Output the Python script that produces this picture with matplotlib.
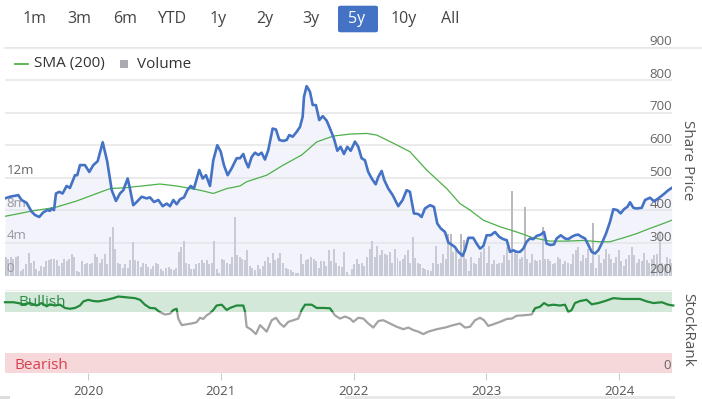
import numpy as np
import matplotlib
matplotlib.use("Agg")
import matplotlib.pyplot as plt
from matplotlib.patches import Rectangle, FancyBboxPatch
from matplotlib.lines import Line2D

plt.rcParams['font.family'] = ['Open Sans', 'DejaVu Sans']

# ---- data (x in decimal years) ----
price_t = [2019.375, 2019.412, 2019.475, 2019.500, 2019.538, 2019.576, 2019.601, 2019.633, 2019.663, 2019.693,
           2019.714, 2019.726, 2019.744, 2019.759, 2019.784, 2019.809, 2019.839, 2019.864, 2019.902, 2019.919,
           2019.940, 2019.977, 2020.010, 2020.040, 2020.073, 2020.111, 2020.145, 2020.179, 2020.211, 2020.241,
           2020.266, 2020.299, 2020.316, 2020.341, 2020.367, 2020.404, 2020.442, 2020.467, 2020.497, 2020.530,
           2020.563, 2020.593, 2020.618, 2020.643, 2020.668, 2020.693, 2020.723, 2020.748, 2020.774, 2020.798,
           2020.838, 2020.864, 2020.889, 2020.919, 2020.944, 2020.974, 2021.000, 2021.024, 2021.052, 2021.082,
           2021.120, 2021.145, 2021.170, 2021.188, 2021.208, 2021.233, 2021.258, 2021.283, 2021.308, 2021.333,
           2021.358, 2021.391, 2021.416, 2021.441, 2021.471, 2021.497, 2021.516, 2021.542, 2021.572, 2021.597,
           2021.617, 2021.627, 2021.647, 2021.672, 2021.693, 2021.717, 2021.742, 2021.768, 2021.798, 2021.828,
           2021.853, 2021.878, 2021.903, 2021.928, 2021.953, 2021.979, 2022.011, 2022.036, 2022.061, 2022.086,
           2022.111, 2022.137, 2022.167, 2022.187, 2022.212, 2022.232, 2022.262, 2022.295, 2022.337, 2022.370,
           2022.400, 2022.425, 2022.455, 2022.488, 2022.513, 2022.538, 2022.576, 2022.606, 2022.631, 2022.657,
           2022.689, 2022.714, 2022.739, 2022.764, 2022.789, 2022.822, 2022.840, 2022.865, 2022.902, 2022.928,
           2022.953, 2022.978, 2023.003, 2023.033, 2023.066, 2023.098, 2023.128, 2023.154, 2023.179, 2023.204,
           2023.229, 2023.254, 2023.279, 2023.304, 2023.329, 2023.354, 2023.380, 2023.410, 2023.435, 2023.455,
           2023.485, 2023.510, 2023.530, 2023.561, 2023.593, 2023.618, 2023.643, 2023.668, 2023.693, 2023.719,
           2023.744, 2023.769, 2023.794, 2023.819, 2023.844, 2023.869, 2023.902, 2023.932, 2023.957, 2023.987,
           2024.012, 2024.038, 2024.063, 2024.083, 2024.108, 2024.133, 2024.171, 2024.196, 2024.233, 2024.264,
           2024.296, 2024.334, 2024.371, 2024.397]
price = [437, 442, 447, 432, 423, 396, 386, 380, 394, 401,
         399, 406, 401, 452, 457, 452, 475, 469, 508, 508,
         539, 539, 518, 539, 551, 609, 550, 462, 429, 452,
         462, 498, 467, 416, 426, 442, 437, 440, 426, 432,
         413, 421, 413, 432, 419, 434, 440, 462, 475, 467,
         524, 498, 508, 475, 554, 600, 580, 539, 508, 529,
         560, 560, 573, 550, 532, 564, 577, 570, 577, 556,
         585, 651, 648, 616, 613, 616, 631, 626, 641, 656,
         687, 748, 781, 764, 723, 723, 677, 689, 675, 646,
         620, 583, 595, 573, 595, 583, 611, 595, 560, 554,
         518, 498, 480, 503, 521, 493, 467, 447, 413, 432,
         462, 457, 391, 389, 380, 406, 416, 411, 360, 345,
         334, 302, 295, 288, 273, 261, 278, 316, 316, 298,
         283, 291, 324, 324, 334, 319, 312, 309, 273, 278,
         273, 273, 283, 304, 314, 312, 322, 326, 334, 298,
         294, 296, 314, 324, 314, 312, 319, 324, 326, 319,
         314, 294, 273, 268, 278, 298, 329, 365, 404, 401,
         391, 404, 411, 425, 408, 406, 408, 432, 439, 428,
         437, 449, 462, 469]

sma_t = [2019.375, 2019.588, 2019.751, 2019.915, 2020.066, 2020.166, 2020.291, 2020.542, 2020.668, 2020.844,
         2020.944, 2021.045, 2021.145, 2021.195, 2021.346, 2021.471, 2021.610, 2021.723, 2021.848, 2021.974,
         2022.099, 2022.175, 2022.300, 2022.425, 2022.551, 2022.702, 2022.802, 2022.878, 2022.978, 2023.104,
         2023.229, 2023.354, 2023.480, 2023.606, 2023.731, 2023.857, 2023.932, 2024.032, 2024.133, 2024.233,
         2024.334, 2024.397]
sma = [382, 399, 409, 429, 452, 467, 470, 481, 475, 462,
       452, 467, 475, 488, 508, 539, 570, 610, 628, 634,
       636, 631, 606, 580, 524, 467, 421, 401, 370, 350,
       334, 316, 306, 306, 308, 304, 304, 316, 329, 345,
       360, 370]

# weekly volume, millions
volume = [2.3, 2.1, 2.3, 2.1, 2.3, 2.4, 0.6, 0.8, 1.4, 2.8, 1.6, 1.8, 0.8, 0.6, 1.2, 1.1, 1.8, 1.9, 2.1, 2.1,
          1.9, 1.2, 1.5, 2.1, 1.8, 2.1, 2.6, 2.3, 0.6, 0.5, 1.8, 1.4, 1.6, 1.4, 1.6, 2.7, 2.3, 1.6, 2.1, 2.6,
          1.4, 4.7, 6.0, 3.3, 1.6, 1.4, 1.0, 1.4, 1.0, 1.9, 4.1, 1.9, 1.8, 1.1, 1.6, 1.4, 1.1, 0.8, 1.2, 1.6,
          1.4, 0.8, 0.6, 1.0, 1.1, 0.8, 0.7, 1.0, 2.9, 3.5, 4.3, 1.6, 1.4, 0.8, 0.8, 1.4, 1.6, 1.9, 1.6, 1.9,
          1.4, 1.6, 4.3, 0.8, 0.3, 2.1, 1.9, 1.6, 1.4, 2.3,
          7.2, 2.5, 2.3, 2.1, 1.9, 3.2, 1.2, 1.0, 0.7, 1.3, 0.8, 1.2, 1.8, 2.3, 1.6, 2.8, 1.9, 2.2, 2.8, 1.6,
          1.0, 0.8, 0.7, 0.4, 0.3, 0.3, 2.7, 1.4, 1.9, 2.1, 2.3, 2.1, 1.8, 1.0, 1.8, 1.8, 1.2, 3.2, 1.8, 3.3,
          1.5, 1.2, 1.1, 2.9, 0.4, 0.1, 0.8, 1.4, 2.1, 1.4, 1.6, 1.2, 2.3, 3.3, 4.3, 2.3, 3.6, 2.5, 3.1, 2.7,
          2.5, 2.9, 1.6, 3.3, 2.2, 1.8, 2.1, 2.5, 3.1, 1.6, 4.8, 2.2, 1.6, 1.4, 1.0, 0.8, 0.7, 0.6, 1.6, 3.6,
          1.4, 1.6, 2.6, 2.1, 5.1, 5.1, 2.9,
          3.1, 2.1, 5.1, 4.4, 2.1, 0.6, 2.3, 1.6, 1.4, 2.2, 2.9, 3.4, 1.6, 3.7, 1.4, 1.9, 1.4, 1.5, 1.5, 2.5,
          3.5, 1.9, 10.4, 3.1, 2.7, 2.1, 2.3, 8.4, 2.1, 1.6, 2.7, 1.9, 1.8, 1.9, 6.0, 2.1, 2.1, 1.8, 1.4, 1.6,
          2.3, 2.1, 1.4, 1.8, 1.6, 1.4, 2.7, 3.1, 3.5, 1.8, 2.5, 2.2, 3.3, 1.6, 6.5, 1.0, 2.5, 1.6, 2.1, 3.3,
          2.7, 2.1, 1.6, 2.3, 3.1, 1.8, 1.2, 2.1, 2.5, 3.5, 2.5, 1.5, 2.1, 1.8, 2.8, 1.9, 1.6, 2.1, 2.5, 2.7,
          5.5, 1.6, 1.4, 2.3, 2.1, 1.6]
vol_start = 2019.38

rank_t = [2019.375, 2019.437, 2019.475, 2019.513, 2019.563, 2019.613, 2019.651, 2019.689, 2019.714, 2019.751,
          2019.789, 2019.827, 2019.864, 2019.902, 2019.940, 2019.965, 2020.002, 2020.040, 2020.078, 2020.141,
          2020.191, 2020.228, 2020.291, 2020.354, 2020.392, 2020.429, 2020.467, 2020.505, 2020.537, 2020.580,
          2020.618, 2020.643, 2020.668, 2020.680, 2020.706, 2020.743, 2020.781, 2020.818, 2020.844, 2020.868,
          2020.894, 2020.919, 2020.944, 2020.969, 2021.007, 2021.045, 2021.070, 2021.120, 2021.170, 2021.183,
          2021.195, 2021.233, 2021.265, 2021.296, 2021.321, 2021.346, 2021.384, 2021.416, 2021.446, 2021.476,
          2021.509, 2021.546, 2021.584, 2021.610, 2021.635, 2021.685, 2021.723, 2021.772, 2021.823, 2021.860,
          2021.898, 2021.936, 2021.974, 2021.999, 2022.036, 2022.074, 2022.111, 2022.149, 2022.187, 2022.224,
          2022.275, 2022.325, 2022.375, 2022.413, 2022.450, 2022.488, 2022.526, 2022.563, 2022.627, 2022.689,
          2022.752, 2022.802, 2022.840, 2022.878, 2022.915, 2022.953, 2022.983, 2023.015, 2023.053, 2023.104,
          2023.154, 2023.192, 2023.229, 2023.279, 2023.342, 2023.367, 2023.405, 2023.435, 2023.467, 2023.505,
          2023.555, 2023.593, 2023.618, 2023.643, 2023.668, 2023.706, 2023.756, 2023.794, 2023.844, 2023.895,
          2023.957, 2024.032, 2024.158, 2024.209, 2024.259, 2024.322, 2024.371, 2024.409]
rank = [87, 87, 86, 84.5, 86, 83, 86, 82, 84.5, 83,
        84, 80, 79, 80, 83, 88, 90, 88.5, 88, 90,
        92, 94, 93, 92, 90, 84, 80, 79.6, 75.4, 72,
        73, 77.5, 79, 67, 59, 60, 61, 62.5, 68, 66.5,
        71, 73.5, 77.5, 83, 84, 77.5, 80, 83, 83, 75.4,
        57, 53, 48, 59, 55, 51, 65, 68, 61, 57,
        63, 65, 67, 77.5, 84, 84, 80, 80, 79.6, 71,
        67, 69.5, 67, 63, 68, 67, 61, 56, 64, 65,
        61, 57, 54, 56, 53, 51, 48, 51, 54, 56,
        59, 61, 56, 57, 65, 68, 65, 58, 60, 63,
        66.5, 67, 70.5, 71, 72, 79.6, 81.5, 86, 83, 84,
        83, 84, 75, 77.5, 86, 88.5, 90, 84.5, 86, 88.5,
        92, 91, 91, 88, 86, 87, 84, 83]

years = [2020, 2021, 2022, 2023, 2024]
price_ticks = [200, 300, 400, 500, 600, 700, 800, 900]
vol_ticks = [0, 4, 8, 12]
vol_labels = ['0', '4m', '8m', '12m']
ranges = ['1m', '3m', '6m', 'YTD', '1y', '2y', '3y', '5y', '10y', 'All']
selected = '5y'

x_min, x_max = 2019.375, 2024.399

# ---- colours ----
blue = '#4472c4'
sma_green = '#4db04a'
rank_green = '#238a3c'
rank_grey = '#a3a3a3'
grid_c = '#e6e6e6'
text_c = '#666666'

W, H = 702, 399
fig = plt.figure(figsize=(W / 100, H / 100), dpi=100)
fig.patch.set_facecolor('white')

# main panel: volume axis underneath, price axis on top
ax_v = fig.add_axes([5 / W, 1 - 275.7 / H, 667 / W, 228.4 / H])
ax_p = ax_v.twinx()

ax_v.set_xlim(x_min, x_max)
ax_v.set_ylim(0, 28)
ax_v.set_yticks(range(0, 29, 4))
ax_v.yaxis.grid(True, color=grid_c, lw=1.1)
ax_v.set_axisbelow(True)
for s in ax_v.spines.values():
    s.set_visible(False)

vol_x = vol_start + np.arange(len(volume)) * 7 / 365.25
ax_v.bar(vol_x, volume, width=0.0150, color='#b9bac0', linewidth=0, zorder=2)

for v, lab in zip(vol_ticks, vol_labels):
    ax_v.annotate(lab, xy=(0, v), xycoords=('axes fraction', 'data'), xytext=(1, 2.6),
                  textcoords='offset points', ha='left', va='baseline', fontsize=9.5, color=text_c)

ax_p.set_xlim(x_min, x_max)
ax_p.set_ylim(200, 900)
for s in ax_p.spines.values():
    s.set_visible(False)
ax_p.fill_between(price_t, price, 200, color='#e1e4f5', alpha=0.4, linewidth=0, zorder=1)
ax_p.plot(sma_t, sma, color=sma_green, lw=0.9, zorder=3)
ax_p.plot(price_t, price, color=blue, lw=1.9, zorder=4, solid_joinstyle='round')

for p in price_ticks:
    ax_p.annotate(str(p), xy=(1, p), xycoords=('axes fraction', 'data'), xytext=(0, 1.6),
                  textcoords='offset points', ha='right', va='baseline', fontsize=9.5, color=text_c)

# twinx turns the host's left ticks back on, so switch everything off here
for a in (ax_v, ax_p):
    a.tick_params(axis='both', which='both', left=False, right=False, bottom=False, top=False,
                  labelleft=False, labelright=False, labelbottom=False, labeltop=False)

# StockRank panel
ax_r = fig.add_axes([5 / W, 1 - 373.3 / H, 667 / W, 83.8 / H])
ax_r.set_xlim(x_min, x_max)
ax_r.set_ylim(0, 102.6)
for s in ax_r.spines.values():
    s.set_visible(False)
ax_r.axhspan(75, 100, color='#d4e8da', lw=0, zorder=0)
ax_r.axhspan(0, 25, color='#f6d8da', lw=0, zorder=0)
ax_r.axhline(102.2, color=grid_c, lw=1.1, zorder=0)
grey_line, = ax_r.plot(rank_t, rank, color=rank_grey, lw=1.6, zorder=3)
green_line, = ax_r.plot(rank_t, rank, color=rank_green, lw=1.6, zorder=3)
grey_line.set_clip_path(Rectangle((x_min - 1, -10), 10, 85, transform=ax_r.transData))
green_line.set_clip_path(Rectangle((x_min - 1, 75), 10, 40, transform=ax_r.transData))

ax_r.text(2019.473, 86.5, 'Bullish', color='#2e8b45', fontsize=11, va='center', ha='left', zorder=2)
ax_r.text(2019.45, 10, 'Bearish', color='#d9404f', fontsize=11, va='center', ha='left')
ax_r.text(2024.39, 10, '0', color=text_c, fontsize=9.5, va='center', ha='right')

ax_r.set_yticks([])
ax_r.set_xticks(years)
ax_r.set_xticklabels([str(y) for y in years])
ax_r.tick_params(axis='x', length=5, width=0.8, color='#cccccc', labelsize=9.5,
                 labelcolor='#555555', pad=3.5)

# axis titles
fig.text(688 / W, 1 - 160 / H, 'Share Price', rotation=270, ha='center', va='center',
         fontsize=11, color='#555555')
fig.text(688 / W, 1 - 330 / H, 'StockRank', rotation=270, ha='center', va='center',
         fontsize=11, color='#555555')

# range selector
btn_x = [35, 79, 125, 172, 218, 265, 311, 357, 404, 450]
for lab, bx in zip(ranges, btn_x):
    if lab == selected:
        fig.patches.append(FancyBboxPatch((338 / W, 1 - 32.3 / H), 40 / W, 26.6 / H,
                                          boxstyle='round,pad=0,rounding_size=0.004',
                                          transform=fig.transFigure, facecolor=blue,
                                          edgecolor='none'))
        fig.text(bx / W, 1 - 19 / H, lab, ha='center', va='center', fontsize=11.5, color='white')
    else:
        fig.text(bx / W, 1 - 19 / H, lab, ha='center', va='center', fontsize=11.5, color='#444444')

# separator lines and legend
fig.add_artist(Line2D([5 / W, 1], [1 - 48 / H] * 2, color=grid_c, lw=1.1))
fig.add_artist(Line2D([15 / W, 28 / W], [1 - 64 / H] * 2, color=sma_green, lw=1.3))
fig.text(34 / W, 1 - 64 / H, 'SMA (200)', ha='left', va='center', fontsize=11, color='#333333')
fig.patches.append(Rectangle((120 / W, 1 - 68 / H), 8 / W, 8 / H, transform=fig.transFigure,
                             facecolor='#a9a9b0', edgecolor='none'))
fig.text(137 / W, 1 - 64 / H, 'Volume', ha='left', va='center', fontsize=11, color='#333333')

# navigator scrollbar remnants
fig.patches.append(Rectangle((0, 0), 10 / W, 3 / H, transform=fig.transFigure,
                             facecolor='#dcdcdc', edgecolor='none'))
fig.patches.append(Rectangle((345 / W, 0), 330 / W, 3 / H, transform=fig.transFigure,
                             facecolor='#e8e8e8', edgecolor='none'))

fig.savefig('out.png', dpi=100)
